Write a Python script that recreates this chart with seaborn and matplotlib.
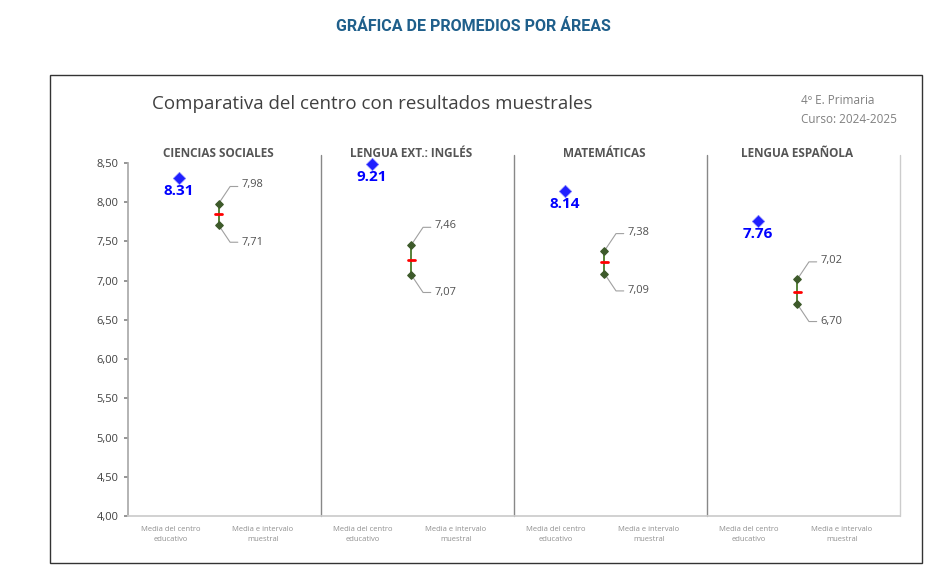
import matplotlib.pyplot as plt
import seaborn as sns
import pandas as pd
from matplotlib.patches import Rectangle

sns.set_theme(style="white")
plt.rcParams['font.family'] = ['Open Sans', 'DejaVu Sans']

areas = ["CIENCIAS SOCIALES", "LENGUA EXT.: INGLÉS", "MATEMÁTICAS", "LENGUA ESPAÑOLA"]
centro = [8.31, 9.21, 8.14, 7.76]
inf = [7.71, 7.07, 7.09, 6.70]
sup = [7.98, 7.46, 7.38, 7.02]
yticks = [4.0, 4.5, 5.0, 5.5, 6.0, 6.5, 7.0, 7.5, 8.0, 8.5]

fig = plt.figure(figsize=(9.47, 5.84), dpi=100)
fig.text(0.5, 0.955, "GRÁFICA DE PROMEDIOS POR ÁREAS", ha="center", va="center",
         color="#1f5f8b", fontsize=11.5, fontweight="bold", family=["Roboto", "DejaVu Sans"])
fig.add_artist(Rectangle((0.053, 0.036), 0.921, 0.836, transform=fig.transFigure,
                         fill=False, edgecolor="#333333", lw=1))
fig.text(0.16, 0.822, "Comparativa del centro con resultados muestrales", fontsize=13.5,
         color="#404040", va="center")
fig.text(0.846, 0.828, "4º E. Primaria", fontsize=8.5, color="#808080", va="center")
fig.text(0.846, 0.796, "Curso: 2024-2025", fontsize=8.5, color="#808080", va="center")

ax = fig.add_axes([0.135, 0.116, 0.815, 0.605])
ax.set_xlim(0, 4)
ax.set_ylim(4.0, 8.5)

xc = [i + 0.265 for i in range(4)]
xi = [i + 0.47 for i in range(4)]
df = pd.DataFrame({"x": xc, "y": [min(c, 8.49) for c in centro]})
sns.scatterplot(data=df, x="x", y="y", marker="D", s=40, color="#1f1fff",
                edgecolor="#8080ff", ax=ax, clip_on=False, zorder=5)
for i in range(4):
    ax.text(xc[i], min(centro[i], 8.49) - 0.08, f"{centro[i]:.2f}", ha="center", va="top",
            color="#0000ff", fontsize=11, fontweight="bold")
    ax.vlines(xi[i], inf[i], sup[i], color="#4a7a2a", lw=1.3)
    ax.scatter([xi[i], xi[i]], [inf[i], sup[i]], marker="D", s=14, color="#3d5a2a", zorder=4)
    ax.plot([xi[i] - 0.02, xi[i] + 0.02], [(inf[i] + sup[i]) / 2] * 2, color="red", lw=2, zorder=5)
    ax.plot([xi[i], xi[i] + 0.06, xi[i] + 0.1], [sup[i], sup[i] + 0.22, sup[i] + 0.22],
            color="#a0a0a0", lw=0.8)
    ax.plot([xi[i], xi[i] + 0.06, xi[i] + 0.1], [inf[i], inf[i] - 0.22, inf[i] - 0.22],
            color="#a0a0a0", lw=0.8)
    ax.text(xi[i] + 0.12, sup[i] + 0.24, f"{sup[i]:.2f}".replace(".", ","), fontsize=8,
            color="#505050", va="center")
    ax.text(xi[i] + 0.12, inf[i] - 0.22, f"{inf[i]:.2f}".replace(".", ","), fontsize=8,
            color="#505050", va="center")
    ax.text(i + 0.47, 8.62, areas[i], ha="center", va="center", fontsize=8.5,
            fontweight="bold", color="#555555")
    ax.text(i + 0.22, 3.77, "Media del centro\neducativo", ha="center", va="center",
            fontsize=5.5, color="#909090", linespacing=1.6)
    ax.text(i + 0.7, 3.77, "Media e intervalo\nmuestral", ha="center", va="center",
            fontsize=5.5, color="#909090", linespacing=1.6)
    if i > 0:
        ax.plot([i, i], [4.0, 8.6], color="#888888", lw=1, clip_on=False)
ax.plot([4, 4], [4.0, 8.6], color="#cccccc", lw=1, clip_on=False)

ax.set_yticks(yticks)
ax.set_yticklabels([f"{v:.2f}".replace(".", ",") for v in yticks], fontsize=8, color="#404040")
ax.tick_params(axis="y", length=3, color="#888888", left=True)
ax.set_xticks([])
ax.set_xlabel("")
ax.set_ylabel("")
for s in ["top", "right"]:
    ax.spines[s].set_visible(False)
ax.spines["left"].set_color("#aaaaaa")
ax.spines["bottom"].set_color("#cccccc")

fig.savefig("out.png", dpi=100)
